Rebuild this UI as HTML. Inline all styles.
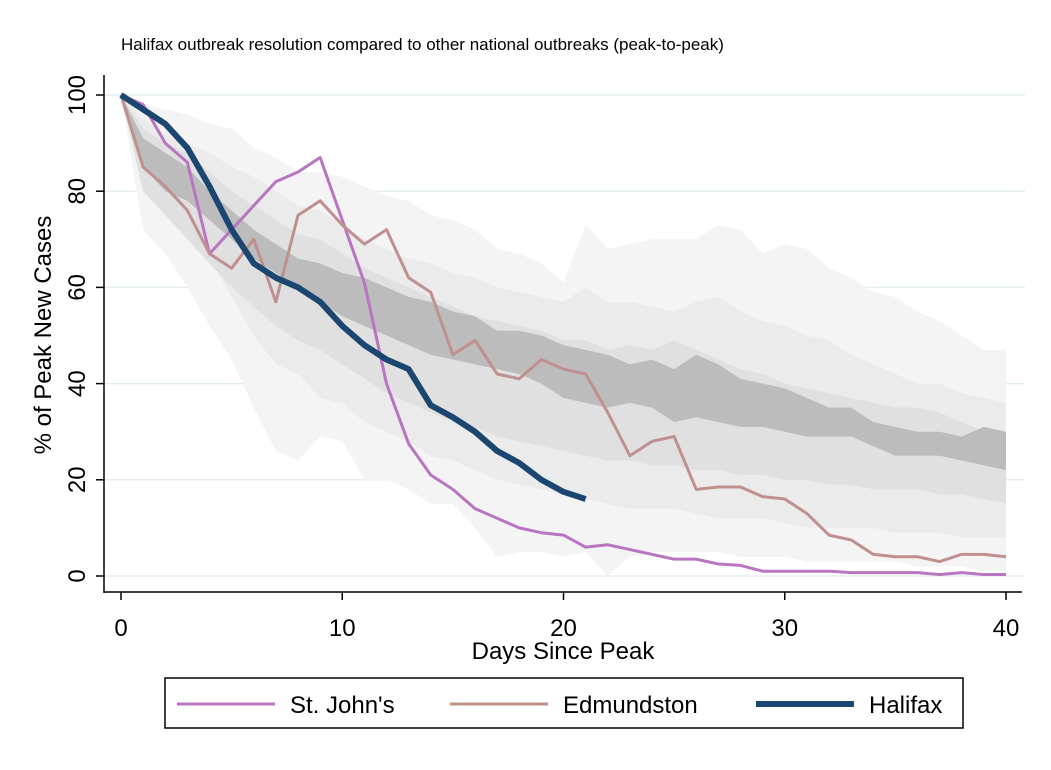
<!DOCTYPE html>
<html><head><meta charset="utf-8"><style>
body{margin:0;background:#fff;font-family:"Liberation Sans",Arial,sans-serif}
</style></head><body>
<svg id="chart" width="1051" height="765" xmlns="http://www.w3.org/2000/svg" font-family="Liberation Sans, Arial, sans-serif">
<rect width="1051" height="765" fill="#fff"/>
<text x="121" y="50" font-size="17">Halifax outbreak resolution compared to other national outbreaks (peak-to-peak)</text>
<g id="grid"></g><g id="bands"></g><g id="lines"></g><g id="axes"></g>
<text x="563" y="659" font-size="24" text-anchor="middle">Days Since Peak</text>
<text transform="translate(51,335) rotate(-90)" font-size="24" text-anchor="middle">% of Peak New Cases</text>
<g>
<rect x="165" y="678" width="798" height="50" fill="#fff" stroke="#000" stroke-width="1.5"/>
<line x1="177" y1="704" x2="275" y2="704" stroke="#b875c0" stroke-width="3"/>
<text x="290" y="713" font-size="24">St. John's</text>
<line x1="450" y1="704" x2="548" y2="704" stroke="#c09090" stroke-width="3"/>
<text x="563" y="713" font-size="24">Edmundston</text>
<line x1="756" y1="704" x2="854" y2="704" stroke="#1a4670" stroke-width="6"/>
<text x="869" y="713" font-size="24">Halifax</text>
</g>
</svg>
<script>
const outerHi=[100,98,97,96,94,93,89,87,84,84,83,81,79,78,75,74,72,68,67,65,61,73,68,69,70,70,70,73,72,67,69,68,64,62,59,58,55,53,50,47,47];
const outerLo=[100,72,67,60,52,45,35,26,24,29,28,20,20,18,15,15,10,4,5,5,4,5,0,4,5,5,5,5,4,4,4,3,3,3,3,3,2,2,2,1,1];
const midHi=[100,95,92,90,88,85,83,80,77,76,73,70,68,66,65,63,62,60,59,58,57,60,57,57,56,55,57,58,55,53,52,50,49,46,44,42,40,40,38,37,36];
const midLo=[100,85,78,72,66,58,50,44,42,37,36,32,30,28,25,24,22,20,19,18,17,16,15,14,14,14,13,12,12,12,11,10,10,10,10,9,9,9,8,8,8];
const iqrHi=[100,93,90,88,84,80,77,74,71,70,67,64,62,60,58,56,54,53,52,51,49,49,47,48,47,49,47,45,43,42,40,39,38,37,36,35,35,34,32,30,28];
const iqrLo=[100,80,75,70,65,60,56,52,49,47,44,41,38,36,34,32,31,29,28,27,26,25,24,24,23,23,22,22,21,21,20,20,19,19,18,18,18,17,17,16,15];
const darkHi=[100,91,88,85,80,76,72,69,66,65,63,62,60,58,57,55,54,51,51,50,48,47,46,44,45,43,46,44,41,40,39,37,35,35,32,31,30,30,29,31,30];
const darkLo=[100,85,80,78,74,70,66,63,60,57,54,52,50,48,46,45,44,43,42,40,37,36,35,36,35,32,33,32,31,31,30,29,29,29,27,25,25,25,24,23,22];
const stJohns=[100,98,90,86,67,72,77,82,84,87,74,61,40,27.5,21,18,14,12,10,9,8.5,6,6.5,5.5,4.5,3.5,3.5,2.5,2.2,1,1,1,1,0.7,0.7,0.7,0.7,0.3,0.7,0.3,0.3];
const edmundston=[100,85,81,76,67,64,70,57,75,78,73,69,72,62,59,46,49,42,41,45,43,42,34,25,28,29,18,18.5,18.5,16.5,16,13,8.5,7.5,4.5,4,4,3,4.5,4.5,4];
const halifax=[100,97,94,89,81,72,65,62,60,57,52,48,45,43,35.5,33,30,26,23.5,20,17.5,16];
const xTicks=[0,10,20,30,40];
const yTicks=[0,20,40,60,80,100];

const NS="http://www.w3.org/2000/svg";
const X=d=>121+d*(1006-121)/40;
const Y=v=>576-v*(576-95)/100;
function mk(t,a,p){const e=document.createElementNS(NS,t);for(const k in a)e.setAttribute(k,a[k]);document.getElementById(p).appendChild(e);return e;}
yTicks.forEach(v=>{const g=mk('line',{x1:104,x2:1025,y1:Y(v),y2:Y(v),stroke:'#e3eef0','stroke-width':1.5},'grid');

});
function band(hi,lo,fill,name){let d='M'+hi.map((v,i)=>X(i)+','+Y(v)).join('L');
for(let i=lo.length-1;i>=0;i--)d+='L'+X(i)+','+Y(lo[i]);
const e=mk('path',{d:d+'Z',fill:fill},'bands');

}
band(outerHi,outerLo,'#f4f4f4','band-outer');
band(midHi,midLo,'#ebebeb','band-middle');
band(iqrHi,iqrLo,'#e0e0e0','band-iqr');
band(darkHi,darkLo,'#bcbcbc','band-median');
function line(arr,col,w,name){const e=mk('polyline',{points:arr.map((v,i)=>X(i)+','+Y(v)).join(' '),fill:'none',stroke:col,'stroke-width':w,'stroke-linejoin':'round'},'lines');

}
line(stJohns,'#b875c0',3,'line-st-johns');
line(edmundston,'#c09090',3,'line-edmundston');
line(halifax,'#1a4670',6,'line-halifax');
const ya=mk('line',{x1:104,x2:104,y1:75,y2:593,stroke:'#000','stroke-width':1.5},'axes');


const xa=mk('line',{x1:104,x2:1022,y1:592,y2:592,stroke:'#000','stroke-width':1.5},'axes');


yTicks.forEach(v=>{mk('line',{x1:96,x2:104,y1:Y(v),y2:Y(v),stroke:'#000','stroke-width':1.5},'axes');
const t=mk('text',{transform:`translate(85,${Y(v)}) rotate(-90)`,'font-size':24,'text-anchor':'middle'},'axes');


t.textContent=v;});
xTicks.forEach(v=>{mk('line',{x1:X(v),x2:X(v),y1:592,y2:600,stroke:'#000','stroke-width':1.5},'axes');
const t=mk('text',{x:X(v),y:636,'font-size':24,'text-anchor':'middle'},'axes');


t.textContent=v;});
</script>
</body></html>
